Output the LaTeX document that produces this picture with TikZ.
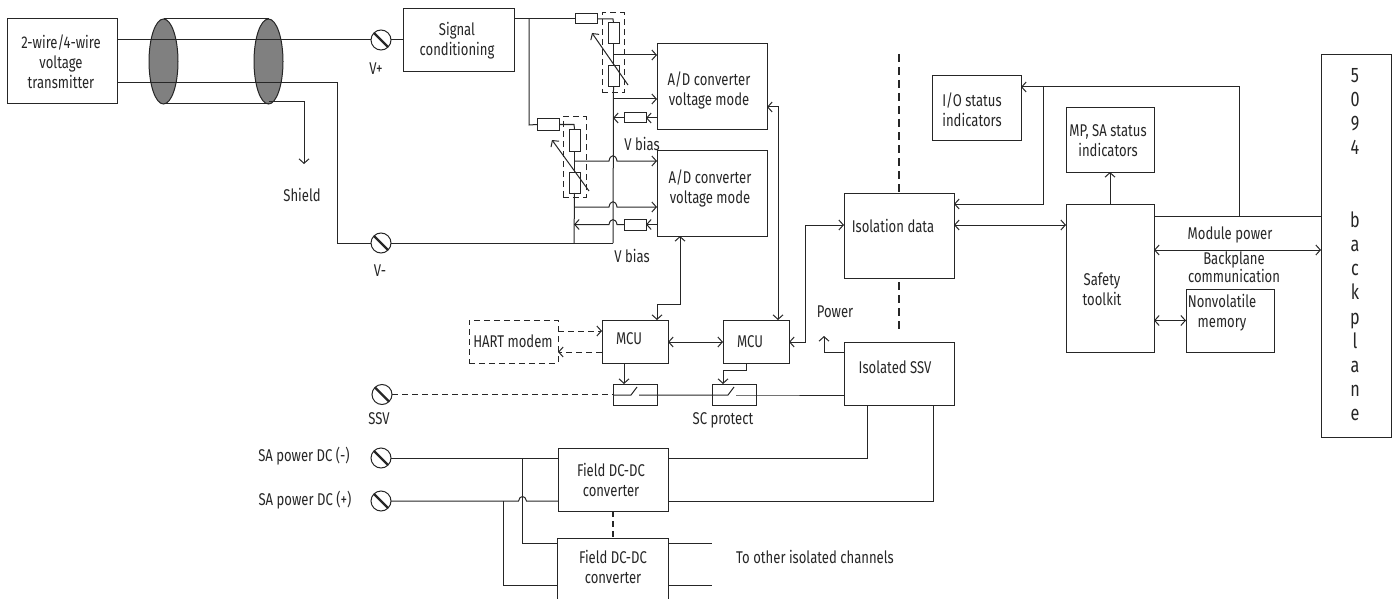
\documentclass[tikz,border=0pt]{standalone}
\usepackage{fontspec}
\setmainfont[FakeStretch=0.77]{Fira Sans}
\usetikzlibrary{arrows.meta,shapes.geometric}
\definecolor{ink}{HTML}{262626}
\definecolor{shade}{HTML}{808080}
\tikzset{
  x=1pt,y=-1pt,
  wire/.style={draw=ink,line width=1pt},
  arr/.style={wire,-{Straight Barb[length=4.5pt,width=10pt]}},
  rarr/.style={wire,{Straight Barb[length=4.5pt,width=10pt]}-},
  both/.style={wire,{Straight Barb[length=4.5pt,width=10pt]}-{Straight Barb[length=4.5pt,width=10pt]}},
  dash wire/.style={wire,dash pattern=on 6pt off 4pt},
  sep line/.style={draw=ink,line width=2pt,dash pattern=on 8pt off 5pt},
  box/.style={draw=ink,line width=1pt,rectangle,inner sep=0pt,outer sep=0pt},
  dashbox/.style={box,dash pattern=on 6pt off 4pt},
  txt/.style={text=ink,align=center,inner sep=0pt,font=\fontsize{17}{20}\selectfont},
  res/.style={box,fill=white},
  term/.style={draw=ink,line width=1pt,circle,minimum size=20pt,inner sep=0pt,outer sep=0pt,
    path picture={\draw[ink,line width=2.2pt] (path picture bounding box.north west)--(path picture bounding box.south east);}},
  lens/.style={draw=ink,line width=1pt,ellipse,fill=shade,minimum width=29pt,minimum height=85pt,inner sep=0pt,outer sep=0pt},
}
% name, x1, y1, x2, y2
\newcommand{\bx}[6][box]{\pgfmathsetmacro{\ww}{#5-#3}\pgfmathsetmacro{\hh}{#6-#4}%
  \node[#1,minimum width=\ww pt,minimum height=\hh pt] (#2) at ({(#3+#5)/2},{(#4+#6)/2}) {};}
\begin{document}
\begin{tikzpicture}
\useasboundingbox (0,0) rectangle (1396,599);
\begin{scope}
\clip (0,0) rectangle (1396,599);
% level helpers
\foreach \v in {19,40,83,87,102,107,117,125,161,164,204,207,216,225,243,244,250,304,320,331,336,342,352,370,384,395,458,501,543,585}
  \coordinate (Y\v) at (0,\v);
\foreach \v in {304,337,503,522,574,613,657,680,712,723,746,778,805,824,867,933,1043,1110,1239,529,624}
  \coordinate (X\v) at (\v,0);
% boxes
\bx{tx}{7}{19}{117}{104}
\bx{sig}{403}{9}{514}{72}
\bx{ada}{657}{44}{767}{129}
\bx{adb}{657}{150}{767}{236}
\bx{mcua}{602}{320}{668}{363}
\bx{mcub}{723}{320}{789}{363}
\bx[dashbox]{hart}{469}{320}{558}{363}
\bx{swa}{613}{384}{657}{405}
\bx{swb}{712}{384}{756}{405}
\bx{iso}{844}{193}{954}{278}
\bx{ssvb}{844}{342}{954}{405}
\bx{fa}{558}{448}{668}{511}
\bx{fb}{557}{538}{668}{610}
\bx{ios}{932}{76}{1021}{140}
\bx{mps}{1066}{108}{1154}{172}
\bx{safe}{1066}{204}{1154}{352}
\bx{nvm}{1186}{289}{1274}{352}
\bx{bp}{1321}{55}{1391}{437}
% dashed groups
\bx[dashbox]{dga}{602}{13}{624}{93}
\bx[dashbox]{dgb}{563}{117}{586}{197}
% cable
\node[lens] (la) at (163.5,61.5) {};
\node[lens] (lb) at (268.5,61.5) {};
\draw[wire] (la.north) -- (lb.north);
\draw[wire] (la.south) -- (lb.south);
% terminals
\node[term] (vp) at (381,40) {};
\node[term] (vm) at (381,243) {};
\node[term] (ssv) at (382,394.5) {};
\node[term] (san) at (381,458) {};
\node[term] (sap) at (381,501) {};
% resistors
\bx[res]{ra}{575}{14}{597}{24}
\bx[res]{rb}{608}{23}{619}{44}
\bx[res]{rc}{608}{66}{619}{87}
\bx[res]{rd}{624}{113}{646}{123}
\bx[res]{re}{537}{119}{559}{130}
\bx[res]{rf}{569}{129}{580}{151}
\bx[res]{rg}{569}{172}{580}{193}
\bx[res]{rh}{624}{219}{646}{230}
% main wires
\draw[wire] (tx.east|-vp) -- (vp);
\draw[wire] (vp) -- (sig.west|-vp);
\coordinate (shieldend) at (304,164);
\draw[wire] (tx.east|-Y83) -- (337,83) -- (337,243) -- (vm);
\draw[arr] (lb.center|-Y102) -- (X304|-Y102) -- (shieldend);
\draw[wire] (vm) -- (X613|-vm);
% signal to network A
\draw[wire] (sig.east|-Y19) -- (ra.west);
\draw[wire] (X529|-Y19) -- (X529|-Y125) -- (re.west);
\draw[wire] (ra.east) -- (X613|-ra) -- (rb.north);
\draw[wire] (rb.south) -- (rc.north);
\draw[wire] (rc.south) -- (X613|-vm);
\draw[wire] (re.east) -- (X574|-re) -- (rf.north);
\draw[wire] (rf.south) -- (rg.north);
\draw[wire] (rg.south) -- (X574|-vm);
% variable resistor arrows
\coordinate (vaa) at (628,85); \coordinate (vab) at (592,33);
\coordinate (vba) at (589,191); \coordinate (vbb) at (552,140);
\draw[arr] (vaa) -- (vab);
\draw[arr] (vba) -- (vbb);
% network A to ADC A
\draw[arr] (X613|-0,55) -- (ada.west|-0,55);
\draw[arr] (X613|-0,99) -- (ada.west|-0,99);
\draw[arr] (ada.west|-rd) -- (rd.east);
\draw[arr] (rd.west) -- (X613|-rd);
% network B to ADC B, with jumps over the x=613 bus
\draw[arr] (X574|-0,161) -- (609,161) .. controls (610,154) and (616,154) .. (617,161) -- (adb.west|-0,161);
\draw[arr] (X574|-0,207) -- (609,207) .. controls (610,200) and (616,200) .. (617,207) -- (adb.west|-0,207);
\draw[arr] (adb.west|-rh) -- (rh.east);
\draw[arr] (rh.west) -- (617,224.5) .. controls (616,218) and (610,218) .. (609,224.5) -- (X574|-rh);
% ADC to MCU
\draw[both] (adb.south-|X680) -- (X680|-Y304) -- (X657|-Y304) -- (X657|-mcua.north);
\draw[both] (ada.east|-Y107) -- (X778|-Y107) -- (X778|-mcub.north);
\draw[both] (mcua.east|-Y342) -- (mcub.west|-Y342);
\draw[both] (mcub.east|-Y342) -- (X805|-Y342) -- (X805|-Y225) -- (iso.west|-Y225);
% HART
\draw[dash wire,-{Straight Barb[length=4.5pt,width=10pt]}] (hart.east|-Y331) -- (mcua.west|-Y331);
\draw[dash wire,-{Straight Barb[length=4.5pt,width=10pt]}] (mcua.west|-Y352) -- (hart.east|-Y352);
% MCU to switches
\draw[arr] (X624|-mcua.south) -- (X624|-swa.north);
\draw[arr] (X746|-mcub.south) -- (X746|-Y370) -- (X723|-Y370) -- (X723|-swb.north);
% switches and line
\draw[dash wire] (ssv) -- (swa.west|-ssv);
\draw[wire] (swa.west|-Y395) -- (631,395) -- (637,387);
\draw[wire] (639,395) -- (swa.east|-Y395) -- (swb.west|-Y395) -- (728,395) -- (734,387);
\draw[wire] (736,395) -- (swb.east|-Y395) -- (ssvb.west|-Y395);
% power
\coordinate (powtip) at (824,336);
\draw[arr] (ssvb.west|-Y352) -- (X824|-Y352) -- (powtip);
% isolation barrier
\coordinate (ta) at (899,54); \coordinate (tb) at (899,282); \coordinate (tc) at (899,329);
\draw[sep line] (ta) -- (iso.north);
\draw[sep line] (tb) -- (tc);
% field DC
\draw[wire] (san) -- (fa.west|-san);
\draw[wire] (sap) -- (518.5,501) .. controls (519.5,495) and (525.5,495) .. (526.5,501) -- (fa.west|-sap);
\draw[wire] (X522|-Y458) -- (X522|-Y543) -- (fb.west|-Y543);
\draw[wire] (X503|-Y501) -- (X503|-Y585) -- (fb.west|-Y585);
\draw[wire] (fa.east|-Y458) -- (X867|-Y458) -- (X867|-ssvb.south);
\draw[wire] (fa.east|-Y501) -- (X933|-Y501) -- (X933|-ssvb.south);
\coordinate (oa) at (712,543); \coordinate (ob) at (712,585);
\draw[wire] (fb.east|-oa) -- (oa);
\draw[wire] (fb.east|-ob) -- (ob);
\draw[sep line,line width=1.6pt,dash pattern=on 6pt off 4pt] (fa.south-|X613) -- (fb.north-|X613);
% right side
\draw[both] (iso.east|-Y225) -- (safe.west|-Y225);
\draw[arr] (safe.east|-Y216) -- (X1239|-Y216) -- (X1239|-Y87) -- (ios.east|-Y87);
\draw[arr] (X1043|-Y87) -- (X1043|-Y204) -- (iso.east|-Y204);
\draw[wire] (safe.east|-Y216) -- (bp.west|-Y216);
\draw[both] (safe.east|-Y250) -- (bp.west|-Y250);
\draw[both] (safe.east|-nvm) -- (nvm.west);
\draw[arr] (safe.north-|X1110) -- (mps.south-|X1110);
% texts
\node[txt] (ttx) at (61,62) {2-wire/4-wire\\voltage\\transmitter};
\node[txt] (tsig) at (457,41) {Signal\\conditioning};
\node[txt] (tada) at (709,90) {A/D converter\\voltage mode};
\node[txt] (tadb) at (710,188) {A/D converter\\voltage mode};
\node[txt] (tmcua) at (629,339) {MCU};
\node[txt] (tmcub) at (750,342) {MCU};
\node[txt] (thart) at (513,341) {HART modem};
\node[txt] (tiso) at (893,226) {Isolation data};
\node[txt] (tssv) at (895,367) {Isolated SSV};
\node[txt] (tfa) at (611,480) {Field DC-DC\\converter};
\node[txt] (tfb) at (613,567) {Field DC-DC\\converter};
\node[txt] (tios) at (972,110) {I/O status\\indicators};
\node[txt] (tmps) at (1108,141) {MP, SA status\\indicators};
\node[txt] (tsafe) at (1102,289) {Safety\\toolkit};
\node[txt] (tnvm) at (1222,313) {Nonvolatile\\memory};
\node[txt] (tmod) at (1230,235) {Module power};
\node[txt,font=\fontsize{17}{16}\selectfont] (tback) at (1234,267) {Backplane\\communication};
\node[txt] (tshield) at (302,195) {Shield};
\node[txt] (tvp) at (376,69) {V+};
\node[txt] (tvm) at (380,271) {V-};
\node[txt] (tssvl) at (379,419) {SSV};
\node[txt] (tsc) at (723,420) {SC protect};
\node[txt] (tpow) at (835,312) {Power};
\node[txt] (tba) at (642,144) {V bias};
\node[txt] (tbb) at (632,256) {V bias};
\node[txt] (tsan) at (304,456) {SA power DC (-)};
\node[txt] (tsap) at (305,500) {SA power DC (+)};
\node[txt] (toth) at (815,557) {To other isolated channels};
\node[txt,font=\fontsize{21}{24.2}\selectfont] (tbp) at (1355,244.5) {5\\0\\9\\4\\\mbox{}\\\mbox{}\\b\\a\\c\\k\\p\\l\\a\\n\\e};
\end{scope}
\end{tikzpicture}
\end{document}
